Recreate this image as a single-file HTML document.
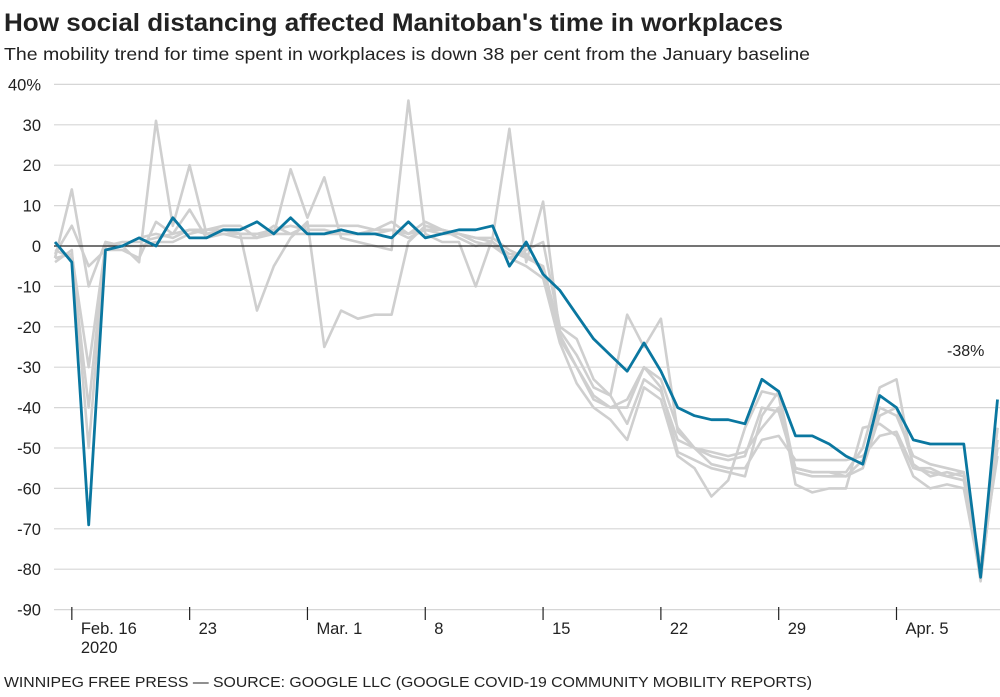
<!DOCTYPE html>
<html><head><meta charset="utf-8"><style>
body{margin:0;background:#fff;width:1000px;height:692px;overflow:hidden;font-family:"Liberation Sans",sans-serif;color:#222}
</style></head><body>
<svg id="c" width="1000" height="692" xmlns="http://www.w3.org/2000/svg" font-family="Liberation Sans, sans-serif">
<text x="4" y="31" font-size="25" font-weight="bold" fill="#222" textLength="779" lengthAdjust="spacingAndGlyphs">How social distancing affected Manitoban's time in workplaces</text>
<text x="4" y="60" font-size="17.5" fill="#222" textLength="806" lengthAdjust="spacingAndGlyphs">The mobility trend for time spent in workplaces is down 38 per cent from the January baseline</text>
<g id="grid"></g>
<g id="gray" fill="none" stroke="#cfcfcf" stroke-width="2.6" stroke-linejoin="round"></g>
<line x1="54" x2="1000" y1="246" y2="246" stroke="#222" stroke-width="1.2"/>
<polyline id="blue" fill="none" stroke="#0a77a0" stroke-width="2.8" stroke-linejoin="round"/>
<text x="947" y="356" font-size="16" fill="#222">-38%</text>
<g id="xt" font-size="16.5" fill="#222"></g>
<text x="4" y="687" font-size="15" fill="#222" textLength="808" lengthAdjust="spacingAndGlyphs">WINNIPEG FREE PRESS — SOURCE: GOOGLE LLC (GOOGLE COVID-19 COMMUNITY MOBILITY REPORTS)</text>
</svg>
<script>
var ns="http://www.w3.org/2000/svg";
function y(v){return 246-v*4.04}
function x(i){return 55+i*16.83}
var g=document.getElementById('grid');
for(var v=40;v>=-90;v-=10){
 if(v!=0){var l=document.createElementNS(ns,'line');l.setAttribute('x1',54);l.setAttribute('x2',1000);l.setAttribute('y1',y(v));l.setAttribute('y2',y(v));l.setAttribute('stroke','#d6d6d6');l.setAttribute('stroke-width','1.2');g.appendChild(l);}
 var t=document.createElementNS(ns,'text');t.setAttribute('x',41);t.setAttribute('y',y(v)+6);t.setAttribute('text-anchor','end');t.setAttribute('font-size','16.5');t.setAttribute('fill','#222');t.textContent=v+(v==40?'%':'');g.appendChild(t);
}
var B=[1,-4,-69,-1,0,2,0,7,2,2,4,4,6,3,7,3,3,4,3,3,2,6,2,3,4,4,5,-5,1,-7,-11,-17,-23,-27,-31,-24,-31,-40,-42,-43,-43,-44,-33,-36,-47,-47,-49,-52,-54,-37,-40,-48,-49,-49,-49,-82,-38];
var G=[
[-3,14,-10,1,0,-4,31,5,20,3,3,2,2,3,19,7,17,2,1,0,-1,36,3,1,1,-10,2,29,-4,11,-22,-30,-37,-40,-38,-30,-33,-45,-50,-52,-53,-52,-40,-41,-55,-56,-56,-56,-50,-35,-33,-55,-56,-57,-58,-80,-45],
[-2,5,-5,-1,-1,-3,6,3,9,2,3,3,-16,-5,2,6,-25,-16,-18,-17,-17,1,5,4,2,0,1,-3,-1,1,-20,-23,-33,-37,-17,-25,-18,-46,-50,-51,-52,-51,-45,-40,-55,-56,-56,-57,-53,-40,-42,-52,-54,-55,-56,-83,-48],
[-4,-1,-50,0,0,0,1,1,3,4,5,5,2,5,3,5,5,5,5,4,6,3,6,4,3,1,0,-3,-5,-8,-24,-34,-40,-43,-48,-35,-38,-52,-55,-62,-58,-45,-36,-37,-59,-61,-60,-60,-45,-44,-47,-57,-60,-59,-60,-82,-50],
[-1,-3,-40,1,0,2,3,2,4,3,4,3,3,4,5,4,4,3,3,3,4,2,4,4,3,2,1,-2,-2,-6,-23,-30,-38,-40,-40,-30,-35,-51,-53,-55,-56,-57,-42,-36,-56,-57,-57,-57,-55,-42,-40,-54,-57,-56,-57,-81,-45],
[-3,-2,-30,0,1,1,2,3,4,4,4,3,3,3,3,3,3,3,3,4,4,3,4,3,3,2,2,-1,-3,-5,-21,-27,-35,-37,-44,-33,-36,-48,-50,-54,-55,-55,-48,-47,-53,-53,-53,-53,-52,-47,-46,-55,-55,-57,-56,-79,-52]];
function pts(a){return a.map(function(v,i){return x(i).toFixed(1)+','+y(v).toFixed(1)}).join(' ')}
var gg=document.getElementById('gray');
G.forEach(function(a){var p=document.createElementNS(ns,'polyline');p.setAttribute('points',pts(a));gg.appendChild(p);});
document.getElementById('blue').setAttribute('points',pts(B));
var xt=document.getElementById('xt');
var labs=['Feb. 16','23','Mar. 1','8','15','22','29','Apr. 5'];
labs.forEach(function(s,k){var xx=x(1+7*k);
 var l=document.createElementNS(ns,'line');l.setAttribute('x1',xx);l.setAttribute('x2',xx);l.setAttribute('y1',607);l.setAttribute('y2',620);l.setAttribute('stroke','#222');l.setAttribute('stroke-width','1.2');xt.appendChild(l);
 var t=document.createElementNS(ns,'text');t.setAttribute('x',xx+9);t.setAttribute('y',634);t.textContent=s;xt.appendChild(t);});
var t=document.createElementNS(ns,'text');t.setAttribute('x',x(1)+9);t.setAttribute('y',653);t.textContent='2020';xt.appendChild(t);
</script>
</body></html>
